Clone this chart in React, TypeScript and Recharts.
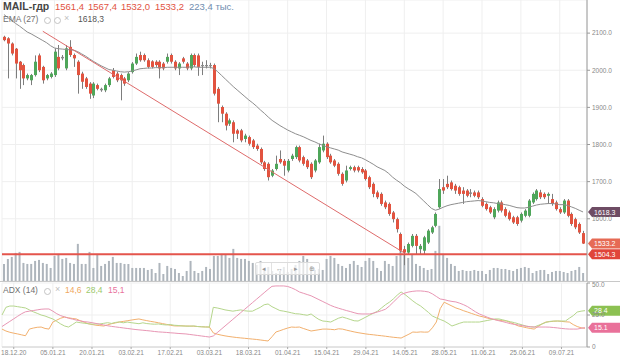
import React from 'react';
import { ComposedChart, Bar, Line, XAxis, YAxis, CartesianGrid, ReferenceLine } from 'recharts';

// OHLC, one entry per trading day (18.12.20 is index 3)
const opens = [
  2090, 2086, 2072, 2058, 2023, 2014, 1978, 1973, 1987, 2040,
  2009, 1978, 1982, 1987, 2036, 2032, 2005, 2063, 2041, 2023,
  1991, 1978, 1964, 1932, 1960, 1946, 1946, 1960, 2000, 1991,
  1987, 1978, 1973, 1995, 2018, 2041, 2041, 2027, 2024, 2023,
  2023, 2018, 2023, 2041, 2023, 2005, 2032, 2018, 2005, 2041,
  2040, 2011, 2014, 2011, 2014, 1950, 1901, 1883, 1856, 1860,
  1838, 1838, 1815, 1820, 1811, 1797, 1788, 1752, 1748, 1716,
  1734, 1761, 1756, 1730, 1761, 1766, 1793, 1766, 1757, 1748,
  1730, 1752, 1784, 1802, 1770, 1757, 1748, 1721, 1703, 1734,
  1739, 1739, 1734, 1730, 1712, 1694, 1671, 1667, 1644, 1640,
  1617, 1599, 1559, 1518, 1509, 1527, 1554, 1518, 1514, 1536,
  1563, 1581, 1631, 1685, 1694, 1698, 1689, 1685, 1676, 1676,
  1671, 1671, 1671, 1653, 1640, 1631, 1604, 1622, 1644, 1626,
  1617, 1604, 1604, 1595, 1608, 1608, 1644, 1653, 1671, 1667,
  1662, 1653, 1644, 1626, 1617, 1649, 1613, 1599, 1586, 1561.4,
];
const highs = [
  2093, 2089, 2075, 2060, 2025, 2018, 1991, 1990, 2040, 2045,
  2012, 1990, 1995, 2059, 2068, 2041, 2068, 2081, 2045, 2027,
  1996, 1982, 1968, 1968, 1964, 1953, 1964, 1982, 2006, 1996,
  1991, 1982, 1995, 2022, 2045, 2050, 2045, 2032, 2027, 2027,
  2027, 2022, 2045, 2045, 2027, 2022, 2036, 2022, 2045, 2045,
  2045, 2023, 2027, 2020, 2018, 1955, 1905, 1887, 1870, 1865,
  1842, 1842, 1829, 1824, 1815, 1802, 1792, 1756, 1752, 1734,
  1770, 1784, 1761, 1761, 1775, 1797, 1797, 1770, 1761, 1752,
  1761, 1802, 1824, 1806, 1775, 1761, 1752, 1725, 1743, 1743,
  1743, 1743, 1739, 1734, 1716, 1698, 1676, 1671, 1649, 1644,
  1621, 1603, 1563, 1527, 1536, 1559, 1559, 1532, 1554, 1572,
  1581, 1617, 1707, 1707, 1716, 1703, 1694, 1689, 1685, 1680,
  1680, 1676, 1676, 1658, 1644, 1635, 1631, 1649, 1649, 1631,
  1622, 1608, 1608, 1617, 1626, 1653, 1671, 1680, 1678, 1671,
  1671, 1667, 1649, 1631, 1653, 1653, 1617, 1603, 1590, 1567.4,
];
const lows = [
  2078, 1978, 2040, 1978, 1950, 1960, 1973, 1960, 1983, 1995,
  1964, 1973, 1978, 1982, 2000, 2027, 2000, 2036, 2009, 1937,
  1950, 1950, 1923, 1925, 1946, 1942, 1941, 1955, 1978, 1968,
  1919, 1958, 1968, 1991, 2014, 2023, 2023, 2005, 2005, 2009,
  1978, 2000, 2018, 2018, 2000, 1987, 2018, 2000, 2000, 2009,
  1985, 1987, 2005, 2005, 1932, 1860, 1860, 1838, 1850, 1806,
  1815, 1806, 1806, 1797, 1788, 1783, 1747, 1729, 1703, 1712,
  1730, 1748, 1716, 1725, 1756, 1761, 1752, 1743, 1734, 1707,
  1725, 1748, 1779, 1761, 1748, 1739, 1716, 1689, 1698, 1730,
  1725, 1725, 1721, 1703, 1680, 1658, 1653, 1635, 1626, 1608,
  1590, 1563, 1509, 1475, 1505, 1523, 1505, 1505, 1505, 1532,
  1559, 1577, 1627, 1667, 1680, 1676, 1667, 1662, 1640, 1658,
  1658, 1658, 1653, 1631, 1622, 1613, 1599, 1617, 1617, 1604,
  1595, 1586, 1581, 1590, 1604, 1604, 1640, 1649, 1653, 1653,
  1640, 1635, 1622, 1613, 1613, 1604, 1581, 1572, 1559, 1532.0,
];
const closes = [
  2081, 2072, 2045, 2018, 2000, 1978, 1987, 1987, 2023, 2000,
  1973, 1987, 1991, 2050, 2005, 2036, 2059, 2041, 2032, 1987,
  1969, 1955, 1937, 1964, 1950, 1950, 1960, 1978, 1982, 1973,
  1973, 1964, 1991, 2018, 2036, 2027, 2027, 2009, 2009, 2014,
  2005, 2005, 2036, 2023, 2005, 2018, 2023, 2005, 2041, 2014,
  2009, 2014, 2011, 2014, 1937, 1910, 1883, 1851, 1865, 1829,
  1829, 1811, 1824, 1802, 1793, 1788, 1752, 1734, 1712, 1730,
  1748, 1752, 1743, 1756, 1770, 1793, 1757, 1748, 1739, 1712,
  1757, 1793, 1802, 1766, 1752, 1743, 1721, 1694, 1730, 1739,
  1730, 1730, 1725, 1707, 1685, 1667, 1658, 1640, 1631, 1613,
  1599, 1572, 1514, 1509, 1532, 1554, 1527, 1527, 1550, 1568,
  1577, 1613, 1680, 1676, 1685, 1680, 1676, 1667, 1667, 1662,
  1667, 1662, 1658, 1635, 1626, 1617, 1626, 1644, 1622, 1608,
  1599, 1590, 1586, 1613, 1622, 1649, 1667, 1676, 1658, 1658,
  1667, 1640, 1626, 1617, 1649, 1608, 1586, 1577, 1563, 1533.2,
];
// volume, thousands
const volumes = [
  476, 616, 672, 784, 812, 504, 476, 476, 560, 588,
  504, 476, 364, 700, 756, 616, 644, 504, 476, 1036,
  476, 476, 812, 364, 756, 420, 476, 560, 672, 504,
  504, 476, 476, 364, 364, 364, 364, 308, 336, 224,
  504, 196, 420, 364, 336, 224, 140, 280, 560, 280,
  224, 280, 392, 336, 700, 700, 756, 728, 644, 896,
  644, 616, 616, 560, 504, 448, 560, 336, 392, 280,
  224, 280, 392, 252, 336, 448, 560, 700, 616, 420,
  308, 336, 308, 616, 700, 644, 476, 420, 364, 476,
  560, 448, 392, 560, 644, 560, 364, 280, 560, 476,
  420, 700, 840, 756, 644, 756, 476, 420, 364, 308,
  336, 840, 1540, 756, 644, 476, 420, 280, 308, 280,
  280, 308, 280, 280, 196, 308, 364, 364, 336, 336,
  308, 280, 336, 364, 392, 364, 224, 280, 308, 308,
  196, 252, 280, 280, 252, 224, 280, 308, 392, 223.4,
];
const ema27 = [
  2150, 2142, 2134, 2126, 2119, 2111, 2103, 2098, 2092, 2086,
  2080, 2074, 2066, 2060, 2058, 2057, 2056, 2055, 2054, 2050,
  2044, 2038, 2031, 2024, 2018, 2012, 2007, 2002, 2000, 1998,
  1996, 1995, 1996, 1998, 2001, 2004, 2005, 2006, 2006, 2007,
  2007, 2007, 2008, 2008, 2008, 2008, 2008, 2008, 2009, 2009,
  2008, 2008, 2008, 2008, 2005, 1996, 1986, 1976, 1966, 1956,
  1947, 1938, 1929, 1920, 1912, 1903, 1893, 1884, 1874, 1865,
  1858, 1851, 1845, 1839, 1834, 1829, 1825, 1821, 1816, 1811,
  1807, 1802, 1798, 1794, 1791, 1788, 1785, 1780, 1777, 1774,
  1771, 1767, 1764, 1759, 1753, 1747, 1740, 1735, 1730, 1722,
  1712, 1704, 1697, 1688, 1681, 1675, 1668, 1658, 1648, 1638,
  1628, 1623, 1626, 1631, 1635, 1638, 1640, 1642, 1644, 1646,
  1647, 1648, 1649, 1648, 1646, 1644, 1643, 1641, 1640, 1638,
  1636, 1633, 1630, 1629, 1629, 1631, 1634, 1637, 1639, 1640,
  1641, 1641, 1640, 1638, 1638, 1636, 1632, 1628, 1623, 1618.3,
];
// ADX (14): +DI orange, -DI green, ADX pink
const plusDI = [
  14, 12.5, 11.5, 10.8, 10.2, 9.5, 8.8, 14, 14.8, 15.4,
  15.6, 14.5, 14, 19.5, 21, 22.5, 23.4, 22.8, 22.3, 21.9,
  20.5, 19.4, 18.2, 17.6, 17, 16.7, 16.4, 17.3, 18.2, 18.8,
  19.5, 20, 20.5, 21, 21.5, 21.9, 21.2, 20.6, 20, 19.5,
  18.9, 18.3, 17.7, 17, 16.5, 16.4, 16.6, 16.3, 16.4, 16.2,
  16, 15.8, 15.7, 15.6, 11, 10, 9.3, 8.7, 8.2, 7.8,
  7.4, 7.1, 6.8, 6.5, 6.2, 5.9, 5.5, 5.1, 4.7, 8,
  11.7, 12.7, 13.8, 14.8, 15.6, 15.4, 15.6, 14.5, 13.5, 12.5,
  13, 13.5, 14, 14, 13.8, 13.5, 14.2, 14, 13.2, 12.5,
  11.8, 11.2, 10.7, 10.2, 9.8, 9.5, 9.1, 8.8, 8.4, 8,
  7.6, 7.3, 7, 8.5, 10, 11.7, 11.5, 11.8, 11.6, 11.7,
  15, 19.5, 30, 35, 33.5, 32, 30.5, 29.5, 28.3, 27.3,
  26.2, 25.2, 24.2, 23.5, 22.6, 21.9, 21.4, 20.9, 20.5, 20.3,
  19, 17.7, 16.4, 15.8, 15.1, 14.5, 14, 16, 18, 19.5,
  19.8, 20.1, 20.3, 20, 19.7, 19.5, 17.5, 16, 15, 14.6,
];
const minusDI = [
  25, 31, 32, 32, 31.5, 31, 30.5, 29, 27.5, 26.3,
  25, 24.2, 23, 21.9, 20, 18, 16.4, 15.6, 17.5, 19.5,
  19, 18.6, 18.2, 17.8, 18, 18, 18.5, 19, 18.4, 19.2,
  19.6, 18.9, 19.5, 19, 18.6, 18.2, 18.9, 18.3, 18, 17.8,
  18, 17.5, 17.2, 17.6, 17, 16.8, 16.4, 16.4, 16.2, 16.5,
  16, 15.8, 15.6, 15.6, 31, 30.5, 29.8, 29, 28.5, 28,
  28.5, 29, 28.3, 28, 28, 29.5, 31, 33, 33.6, 31.5,
  30, 28.5, 28, 27.4, 26.7, 26, 25.8, 25.3, 24.8, 25.8,
  23.5, 21.5, 20.3, 20, 19.5, 21, 22.5, 23.4, 22.5, 21.5,
  20.5, 20.3, 21.8, 23.4, 25, 26.5, 28, 30.5, 33, 35,
  37.5, 40.5, 43, 41, 38.5, 36, 33.8, 32, 29.5, 27,
  24.2, 22.8, 21.5, 20.3, 18.5, 16.4, 17.5, 18.6, 19.5, 19.5,
  19.5, 19.5, 19.5, 20.1, 20.7, 21.3, 21.9, 21.9, 21.2, 20.4,
  19.7, 19, 18.1, 17.2, 16.3, 15.8, 15.6, 16.8, 18, 19.2,
  20, 20.3, 20.3, 20.3, 20.3, 22.5, 24.5, 27.3, 28, 28.4,
];
const adxLine = [
  16, 18, 20, 22, 24, 26, 27.5, 28, 28.5, 29,
  29.5, 29.7, 29.7, 28, 26, 24.5, 23.5, 22.5, 21.8, 21,
  20.4, 19.8, 19.5, 19, 18.4, 17.8, 17.2, 16.6, 16.1, 15.7,
  15.3, 14.9, 14.5, 14.1, 13.7, 13.4, 13.1, 12.8, 12.5, 12.1,
  11.8, 11.6, 11.4, 11.1, 10.9, 10.6, 10.4, 10.2, 9.8, 9.4,
  9, 8.6, 8.2, 7.8, 8.6, 11.2, 13.8, 16.4, 19, 21.6,
  24.2, 26.8, 29.4, 32, 34.6, 37.2, 39.8, 42.4, 45, 47.4,
  47.7, 47.7, 47.7, 47.3, 46.2, 44.8, 43, 42, 41, 40,
  38.5, 37, 35.5, 34, 32.5, 31.3, 30.3, 29.4, 28.5, 27.7,
  26.8, 26, 25.8, 25.8, 25.8, 26.5, 27.4, 28.4, 29.5, 32,
  35, 38, 41, 42.2, 43, 43.5, 43.8, 43.8, 43.5, 43,
  41.5, 39.5, 37.5, 37, 36.2, 35.6, 35.2, 34.2, 33, 31.5,
  29.5, 27.5, 25.8, 24.6, 23.3, 22.2, 21.3, 20.5, 19.8, 19,
  18.2, 17.7, 17.2, 16.7, 16.2, 15.8, 15.6, 15.6, 15.6, 15.6,
  15.5, 15.2, 14.9, 14.5, 14.2, 14, 14, 14, 14.6, 15.1,
];

const dateTicks = [3, 13, 23, 33, 43, 53, 63, 73, 83, 93, 103, 113, 123, 133, 143];
const dateLabels = [
  '18.12.20', '05.01.21', '20.01.21', '03.02.21', '17.02.21', '03.03.21', '18.03.21', '01.04.21',
  '15.04.21', '29.04.21', '14.05.21', '28.05.21', '11.06.21', '25.06.21', '09.07.21',
];
const priceTicks = [1600, 1700, 1800, 1900, 2000, 2100];
const adxTicks = [0, 25, 50];
const supportLevel = 1504.3;
const trendLine = [{ x: 10, y: 2105 }, { x: 103, y: 1508 }];

const GREEN = '#4fa65a';
const RED = '#e2533f';
const WICK = '#7d7d7d';
const FONT = '"Liberation Sans", Arial, sans-serif';

const data = opens.map((o, i) => ({
  i,
  o,
  h: highs[i],
  l: lows[i],
  c: closes[i],
  range: [lows[i], highs[i]],
  vol: volumes[i],
  ema: ema27[i],
  pdi: plusDI[i],
  mdi: minusDI[i],
  adx: adxLine[i],
}));

function Candle(props: any) {
  const { x, y, width, height, payload } = props;
  if (x == null || y == null) return null;
  const top = Math.min(y, y + height);
  const hgt = Math.abs(height);
  const { o, h, l, c } = payload;
  const k = hgt / (h - l || 1);
  const cx = Math.round(x + width / 2);
  const yo = top + (h - o) * k;
  const yc = top + (h - c) * k;
  const color = Math.abs(c - o) < 5 ? '#8a8a8a' : c > o ? GREEN : RED;
  const bTop = Math.min(yo, yc);
  const bH = Math.max(1, Math.abs(yc - yo));
  return (
    <g>
      <line x1={cx + 0.5} x2={cx + 0.5} y1={top} y2={top + hgt} stroke={WICK} strokeWidth={1} />
      <rect x={cx - 1} y={bTop} width={3} height={bH} fill={color} />
    </g>
  );
}

function Tag(props: any) {
  const { viewBox, text, color } = props;
  if (!viewBox) return null;
  const x0 = viewBox.x + viewBox.width + 1;
  const y = viewBox.y;
  return (
    <g>
      <path d={`M${x0} ${y} L${x0 + 4} ${y - 5} L620 ${y - 5} L620 ${y + 5} L${x0 + 4} ${y + 5} Z`} fill={color} />
      <text x={x0 + 6} y={y + 2.6} fontSize={7} fill="#fff" fontFamily={FONT}>{text}</text>
    </g>
  );
}

const fmtPrice = (v: number) => v.toFixed(1);
const fmtAdx = (v: number) => (v === 0 ? '0' : v.toFixed(1));
const fmtDate = (v: number) => dateLabels[dateTicks.indexOf(v)] ?? '';

function Gear({ x }: { x: number }) {
  return <span style={{ position: 'absolute', left: x, top: 0, width: 5, height: 5, border: '1.3px solid #c4c4c4', borderRadius: '50%' }} />;
}

const navBtn = { display: 'inline-block', width: 15, textAlign: 'center' as const, borderRight: '1px solid #e2e2e2' };

export default function App() {
  const legendNum = { position: 'absolute' as const, top: 1, fontSize: 9.5 };
  return (
    <div style={{ position: 'absolute', left: 0, top: 0, width: 620, height: 360, background: '#fff', fontFamily: FONT, overflow: 'hidden' }}>
      <ComposedChart width={620} height={281} data={data} margin={{ top: 0, right: 0, bottom: 0, left: 2 }} barCategoryGap={0}>
        <CartesianGrid xAxisId="x" yAxisId="p" stroke="#efefef" />
        <XAxis xAxisId="x" dataKey="i" hide ticks={dateTicks} interval={0} padding={{ left: 0, right: 2 }} />
        <XAxis xAxisId="v" dataKey="i" hide padding={{ left: 0, right: 2 }} />
        <YAxis
          yAxisId="p"
          orientation="right"
          width={33}
          domain={[1432.4, 2189.2]}
          allowDataOverflow
          ticks={priceTicks}
          tickFormatter={fmtPrice}
          tick={{ fontSize: 6.5, fill: '#888', fontFamily: FONT }}
          tickSize={3}
          tickMargin={2}
          axisLine={{ stroke: '#9a9a9a' }}
          tickLine={{ stroke: '#9a9a9a' }}
        />
        <YAxis yAxisId="v" hide domain={[0, 7840]} />
        <Bar xAxisId="v" yAxisId="v" dataKey="vol" fill="#aeb5bc" barSize={2} isAnimationActive={false} />
        <Line xAxisId="x" yAxisId="p" dataKey="ema" stroke="#8e8e8e" strokeWidth={1} dot={false} isAnimationActive={false} />
        <Bar xAxisId="x" yAxisId="p" dataKey="range" shape={<Candle />} isAnimationActive={false} />
        <ReferenceLine xAxisId="x" yAxisId="p" segment={trendLine} stroke="#de6b6b" strokeWidth={1} ifOverflow="visible" />
        <ReferenceLine xAxisId="x" yAxisId="p" y={supportLevel} stroke="#e4554c" strokeWidth={2} label={<Tag text="1504.3" color="#e0453a" />} />
        <ReferenceLine xAxisId="x" yAxisId="p" y={ema27[149]} stroke="none" label={<Tag text="1618.3" color="#6e4c64" />} />
        <ReferenceLine xAxisId="x" yAxisId="p" y={closes[149]} stroke="none" label={<Tag text="1533.2" color="#e66a55" />} />
      </ComposedChart>
      <div style={{ position: 'absolute', left: 0, top: 281, width: 620, height: 1, background: '#c8c8c8' }} />
      <div style={{ position: 'absolute', left: 0, top: 281 }}>
        <ComposedChart width={620} height={79} data={data} margin={{ top: 2, right: 0, bottom: 0, left: 2 }}>
          <CartesianGrid stroke="#efefef" />
          <XAxis
            dataKey="i"
            ticks={dateTicks}
            interval={0}
            tickFormatter={fmtDate}
            padding={{ left: 0, right: 2 }}
            height={13}
            tick={{ fontSize: 6.5, fill: '#888', fontFamily: FONT }}
            tickSize={2}
            tickMargin={1}
            axisLine={{ stroke: '#d0d0d0' }}
            tickLine={{ stroke: '#aaa' }}
          />
          <YAxis
            orientation="right"
            width={33}
            domain={[0, 50]}
            ticks={adxTicks}
            tickFormatter={fmtAdx}
            tick={{ fontSize: 6.5, fill: '#888', fontFamily: FONT }}
            tickSize={3}
            tickMargin={2}
            axisLine={{ stroke: '#9a9a9a' }}
            tickLine={{ stroke: '#9a9a9a' }}
          />
          <Line dataKey="pdi" stroke="#f2b06e" strokeWidth={1} dot={false} isAnimationActive={false} />
          <Line dataKey="mdi" stroke="#b5d68c" strokeWidth={1} dot={false} isAnimationActive={false} />
          <Line dataKey="adx" stroke="#e896b4" strokeWidth={1} dot={false} isAnimationActive={false} />
          <ReferenceLine y={minusDI[149]} stroke="none" label={<Tag text="28.4" color="#8cc152" />} />
          <ReferenceLine y={adxLine[149]} stroke="none" label={<Tag text="15.1" color="#e9719a" />} />
        </ComposedChart>
      </div>

      <div style={{ position: 'absolute', left: 255, top: 262, height: 11, border: '1px solid #dcdcdc', borderRadius: 2, background: 'rgba(255,255,255,0.7)', fontSize: 7, lineHeight: '11px', color: '#9a9a9a', whiteSpace: 'nowrap' }}>
        <span style={navBtn}>◂</span>
        <span style={navBtn}>↔</span>
        <span style={navBtn}>▸</span>
        <span style={{ ...navBtn, borderRight: 'none' }}>⊕</span>
      </div>

      <div style={{ position: 'absolute', left: 3, top: 0, fontSize: 10.5, fontWeight: 700, color: '#454545' }}>MAIL-гдр</div>
      <div style={{ ...legendNum, left: 55, color: RED }}>1561,4</div>
      <div style={{ ...legendNum, left: 88, color: RED }}>1567,4</div>
      <div style={{ ...legendNum, left: 121, color: RED }}>1532,0</div>
      <div style={{ ...legendNum, left: 155, color: RED }}>1533,2</div>
      <div style={{ ...legendNum, left: 189, color: '#6f8db0' }}>223,4 тыс.</div>

      <div style={{ position: 'absolute', left: 3, top: 14, fontSize: 8.5, color: '#707070', whiteSpace: 'nowrap' }}>EMA (27)</div>
      <div style={{ position: 'absolute', left: 44, top: 17 }}><Gear x={0} /><Gear x={10} /></div>
      <div style={{ position: 'absolute', left: 64, top: 13, fontSize: 9, color: '#c0c0c0' }}>×</div>
      <div style={{ position: 'absolute', left: 78, top: 14, fontSize: 8.5, color: '#555' }}>1618,3</div>

      <div style={{ position: 'absolute', left: 3, top: 285, fontSize: 8.5, color: '#707070', whiteSpace: 'nowrap' }}>ADX (14)</div>
      <div style={{ position: 'absolute', left: 44, top: 288 }}><Gear x={0} /></div>
      <div style={{ position: 'absolute', left: 55, top: 284, fontSize: 9, color: '#c0c0c0' }}>×</div>
      <div style={{ position: 'absolute', left: 65, top: 285, fontSize: 8.5, color: '#f0a860' }}>14,6</div>
      <div style={{ position: 'absolute', left: 86, top: 285, fontSize: 8.5, color: '#9cc96b' }}>28,4</div>
      <div style={{ position: 'absolute', left: 108, top: 285, fontSize: 8.5, color: '#e8739c' }}>15,1</div>
    </div>
  );
}
